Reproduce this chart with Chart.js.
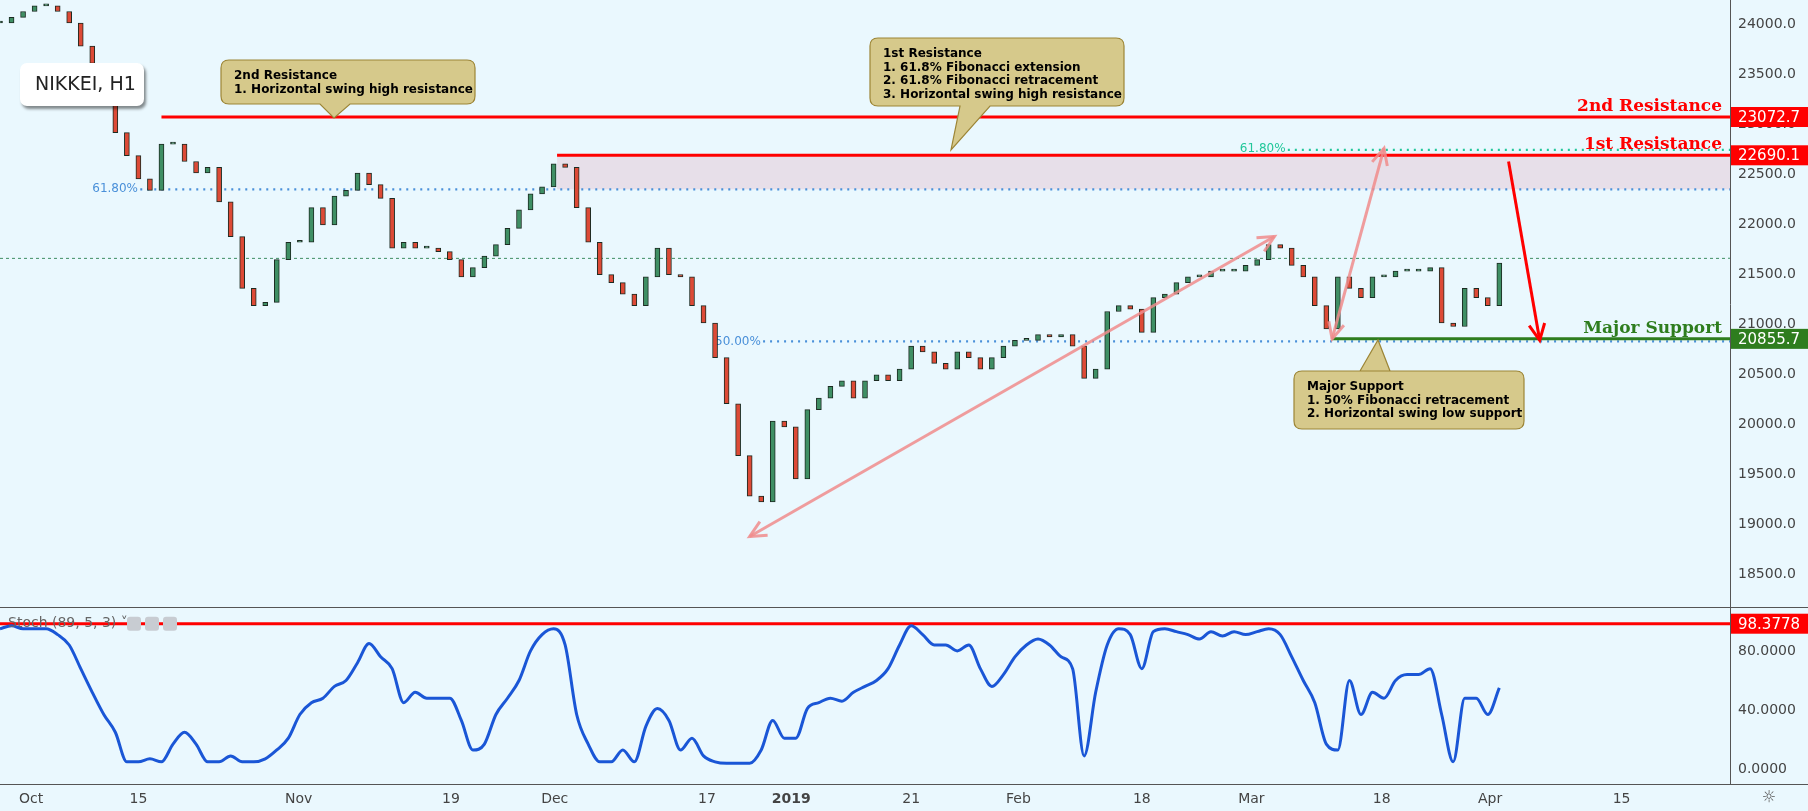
<!DOCTYPE html>
<html><head><meta charset="utf-8">
<script src="https://cdn.jsdelivr.net/npm/chart.js@4/dist/chart.umd.min.js"></script>
<style>
html,body{margin:0;padding:0;background:#eaf8fe;}
#a{position:absolute;left:0;top:0;width:1808px;height:608px;}
#b{position:absolute;left:0;top:608px;width:1808px;height:203px;}
</style></head><body>
<div id="a"><canvas id="c1"></canvas></div>
<div id="b"><canvas id="c2"></canvas></div>
<script>
// ---- data ----
const closes = [24012,24069,24127,24184,24184,24127,24012,23781,23608,23550,22916,22686,22455,22340,22801,22801,22628,22513,22570,22224,21878,21360,21187,21221,21648,21821,21821,22167,21994,22282,22340,22513,22397,22259,21763,21821,21763,21763,21728,21648,21475,21567,21682,21798,21959,22144,22305,22374,22605,22570,22167,21821,21498,21417,21302,21187,21475,21763,21498,21475,21187,21014,20668,20207,19688,19284,19227,20034,19976,19457,20149,20264,20380,20437,20264,20437,20495,20437,20553,20783,20725,20610,20553,20725,20668,20553,20668,20783,20841,20841,20898,20875,20898,20783,20460,20553,21129,21187,21152,20921,21267,21302,21417,21475,21475,21533,21533,21533,21590,21648,21798,21763,21590,21475,21187,20956,21475,21360,21267,21475,21475,21533,21533,21533,21567,21014,20979,21360,21267,21187,21613];
const stoch = [95,97,95,95,95,91,84,68,52,37,25,5,5,7,5,17,25,17,5,5,9,5,5,7,13,21,37,45,48,56,60,72,85,76,68,45,52,48,48,48,33,13,17,37,48,60,80,91,95,84,37,17,5,5,13,5,29,41,33,13,21,9,5,4,4,4,13,33,21,21,41,45,48,46,52,56,60,68,84,97,91,84,84,80,84,68,56,64,76,84,88,84,76,68,9,52,84,95,91,68,93,95,93,91,88,93,90,93,91,93,95,91,76,60,45,17,13,60,37,52,48,60,64,64,68,37,5,48,48,37,55];
const tickPos = [2.7,12,25.9,39.1,48.1,61.3,68.6,79,88.3,99,108.5,119.8,129.2,140.6];
const tickLabels = ['Oct','15','Nov','19','Dec','17','2019','21','Feb','18','Mar','18','Apr','15'];
const priceTicks = [18500,19000,19500,20000,20500,21000,21500,22000,22500,23000,23500,24000];
const stochTicks = [0,40,80];
const levels = [
 {name:'2nd Resistance', value:23072.7, from:14, color:'#ff0000'},
 {name:'1st Resistance', value:22690.1, from:48.3, color:'#ff0000'},
 {name:'Major Support', value:20855.7, from:115.5, color:'#2e7d1e'}
];
const fibs = [
 {label:'61.80%', value:22350, from:8, color:'#4a90d9'},
 {label:'50.00%', value:20830, from:62, color:'#4a90d9'},
 {label:'61.80%', value:22745, from:107.5, color:'#22c79a'}
];
const zone = [22350, 22690.1, 48.3];
const lastPrice = 21660;
const stochLevel = 98.3778;
const arrows = [
 {p:[[65,18881],[110.5,21878]], color:'rgba(240,140,140,0.85)', both:true},
 {p:[[115.5,20855],[120,22760]], color:'rgba(240,140,140,0.85)', both:true},
 {p:[[130.8,22628],[133.5,20841]], color:'#ff0000', both:false}
];

const XMIN=0, XMAX=150;
const bodies = closes.map((c,i)=>({x:i, y:[i?closes[i-1]:c, c]}));
const upC='#3f8f64', dnC='#dd4a36';

function fixW(ax){ ax.width=78; ax.paddingTop=0; ax.paddingBottom=0; }
const font='"DejaVu Sans", sans-serif';

function arrowHead(ctx,x1,y1,x2,y2,len){
  const a=Math.atan2(y2-y1,x2-x1);
  ctx.beginPath();
  ctx.moveTo(x2-len*Math.cos(a-0.45),y2-len*Math.sin(a-0.45));
  ctx.lineTo(x2,y2);
  ctx.lineTo(x2-len*Math.cos(a+0.45),y2-len*Math.sin(a+0.45));
  ctx.stroke();
}
function callout(ctx,x,y,w,h,tx,ty,bx,lines){
  ctx.save();
  ctx.fillStyle='#d6c98b'; ctx.strokeStyle='#9c8536'; ctx.lineWidth=1.2;
  const r=8;
  ctx.beginPath();
  ctx.moveTo(x+r,y); ctx.lineTo(x+w-r,y); ctx.quadraticCurveTo(x+w,y,x+w,y+r);
  if(ty>y+h){
    ctx.lineTo(x+w,y+h-r); ctx.quadraticCurveTo(x+w,y+h,x+w-r,y+h);
    ctx.lineTo(bx+30,y+h); ctx.lineTo(tx,ty); ctx.lineTo(bx,y+h);
    ctx.lineTo(x+r,y+h); ctx.quadraticCurveTo(x,y+h,x,y+h-r);
    ctx.lineTo(x,y+r); ctx.quadraticCurveTo(x,y,x+r,y);
  } else {
    ctx.lineTo(x+w,y+h-r); ctx.quadraticCurveTo(x+w,y+h,x+w-r,y+h);
    ctx.lineTo(x+r,y+h); ctx.quadraticCurveTo(x,y+h,x,y+h-r);
    ctx.lineTo(x,y+r); ctx.quadraticCurveTo(x,y,x+r,y);
    ctx.moveTo(bx,y); ctx.lineTo(tx,ty); ctx.lineTo(bx+30,y);
  }
  ctx.closePath(); ctx.fill(); ctx.stroke();
  ctx.fillStyle='#000'; ctx.font='bold 12px '+font; ctx.textBaseline='top';
  lines.forEach((l,i)=>ctx.fillText(l,x+13,y+10+i*13.5));
  ctx.restore();
}
function priceTag(ctx,area,y,txt,color){
  ctx.save();
  ctx.fillStyle=color; ctx.fillRect(area.right+1,y-10,77,20);
  ctx.fillStyle='#fff'; ctx.font='15px '+font; ctx.textBaseline='middle';
  ctx.fillText(txt,area.right+8,y+1);
  ctx.restore();
}

const topPlugin={
 id:'topdeco',
 beforeDatasetsDraw(ch){
  const {ctx,chartArea:a,scales:{x,y}}=ch;
  ctx.save();
  ctx.fillStyle='rgba(230,215,225,0.75)';
  const zy1=y.getPixelForValue(zone[1]), zy0=y.getPixelForValue(zone[0]);
  ctx.fillRect(x.getPixelForValue(zone[2]),zy1,a.right-x.getPixelForValue(zone[2]),zy0-zy1);
  ctx.strokeStyle='#3f8f64'; ctx.lineWidth=1; ctx.setLineDash([3,3]);
  const ly=y.getPixelForValue(lastPrice);
  ctx.beginPath(); ctx.moveTo(a.left,ly); ctx.lineTo(a.right,ly); ctx.stroke();
  ctx.setLineDash([2,5]); ctx.lineWidth=2.2;
  fibs.forEach(f=>{
   const fy=y.getPixelForValue(f.value), fx=x.getPixelForValue(f.from);
   ctx.strokeStyle=f.color; ctx.beginPath(); ctx.moveTo(fx+48,fy); ctx.lineTo(a.right,fy); ctx.stroke();
   ctx.fillStyle=f.color; ctx.font='12px '+font; ctx.textAlign='left'; ctx.textBaseline='middle';
   ctx.fillText(f.label,fx,fy+(f.color==='#22c79a'?-1:0));
  });
  ctx.restore();
 },
 afterDatasetsDraw(ch){
  const {ctx,chartArea:a,scales:{x,y}}=ch;
  ctx.save();
  levels.forEach(l=>{
   const ly=y.getPixelForValue(l.value);
   ctx.strokeStyle=l.color; ctx.lineWidth=3;
   ctx.beginPath(); ctx.moveTo(x.getPixelForValue(l.from),ly); ctx.lineTo(a.right,ly); ctx.stroke();
   ctx.fillStyle=l.color; ctx.font='bold 17px "DejaVu Serif", serif'; ctx.textAlign='right'; ctx.textBaseline='bottom';
   ctx.fillText(l.name,a.right-8,ly-2);
   ctx.textAlign='left';
   priceTag(ctx,a,ly,l.value.toFixed(1),l.color);
  });
  arrows.forEach(ar=>{
   const [p0,p1]=ar.p;
   const x0=x.getPixelForValue(p0[0]),y0=y.getPixelForValue(p0[1]);
   const x1=x.getPixelForValue(p1[0]),y1=y.getPixelForValue(p1[1]);
   ctx.strokeStyle=ar.color; ctx.lineWidth=3;
   ctx.beginPath(); ctx.moveTo(x0,y0); ctx.lineTo(x1,y1); ctx.stroke();
   arrowHead(ctx,x0,y0,x1,y1,18);
   if(ar.both) arrowHead(ctx,x1,y1,x0,y0,18);
  });
  callout(ctx,221,60,254,44,334,118,320,['2nd Resistance','1. Horizontal swing high resistance']);
  callout(ctx,870,38,254,68,951,150,960,['1st Resistance','1. 61.8% Fibonacci extension','2. 61.8% Fibonacci retracement','3. Horizontal swing high resistance']);
  callout(ctx,1294,371,230,58,1378,340,1360,['Major Support','1. 50% Fibonacci retracement','2. Horizontal swing low support']);
  ctx.shadowColor='rgba(0,0,0,0.45)'; ctx.shadowOffsetX=2; ctx.shadowOffsetY=3; ctx.shadowBlur=3;
  ctx.fillStyle='#fff';
  ctx.beginPath(); ctx.roundRect(20,63,124,43,7); ctx.fill();
  ctx.shadowColor='transparent';
  ctx.fillStyle='#222'; ctx.font='19px '+font; ctx.textBaseline='middle'; ctx.textAlign='left';
  ctx.fillText('NIKKEI, H1',35,85);
  ctx.strokeStyle='#555'; ctx.lineWidth=1;
  ctx.beginPath(); ctx.moveTo(0,a.bottom-0.5); ctx.lineTo(a.right+78,a.bottom-0.5); ctx.stroke();
  ctx.restore();
 }
};

new Chart(document.getElementById('c1'),{
 type:'bar',
 data:{datasets:[{
  data:bodies,
  backgroundColor:bodies.map(b=>b.y[1]>=b.y[0]?upC:dnC),
  borderColor:'#1c2b22', borderWidth:1, borderSkipped:false,
  barThickness:5, minBarLength:2
 }]},
 options:{
  responsive:true, maintainAspectRatio:false, animation:false,
  layout:{padding:0},
  plugins:{legend:{display:false},tooltip:{enabled:false}},
  scales:{
   x:{type:'linear',min:XMIN,max:XMAX,display:false,offset:false},
   y:{position:'right',min:18166,max:24242,afterFit:fixW,
      afterBuildTicks:ax=>{ax.ticks=priceTicks.map(v=>({value:v}));},
      grid:{display:false,drawTicks:true,tickLength:4,tickColor:'#555'},
      border:{color:'#555'},
      ticks:{color:'#444',font:{size:14,family:font},padding:4,callback:v=>v.toFixed(1)}}
  }
 },
 plugins:[topPlugin]
});

const botPlugin={
 id:'botdeco',
 beforeDatasetsDraw(ch){
  const {ctx,chartArea:a,scales:{y}}=ch;
  const ly=y.getPixelForValue(stochLevel);
  ctx.save();
  ctx.strokeStyle='#ff0000'; ctx.lineWidth=3;
  ctx.beginPath(); ctx.moveTo(a.left,ly); ctx.lineTo(a.right,ly); ctx.stroke();
  ctx.restore();
 },
 afterDatasetsDraw(ch){
  const {ctx,chartArea:a,scales:{y}}=ch;
  const ly=y.getPixelForValue(stochLevel);
  priceTag(ctx,a,ly,stochLevel.toFixed(4),'#ff0000');
  ctx.save();
  ctx.fillStyle='#666'; ctx.font='14px '+font; ctx.textBaseline='middle';
  ctx.fillText('Stoch (89, 5, 3) \u02C5',8,ly);
  ctx.fillStyle='#c8ccd2';
  [127,145,163].forEach(px=>{ctx.beginPath();ctx.roundRect(px,ly-7,14,14,3);ctx.fill();});
  ctx.strokeStyle='#555'; ctx.lineWidth=1;
  ctx.beginPath(); ctx.moveTo(0,a.bottom+0.5); ctx.lineTo(a.right+78,a.bottom+0.5); ctx.stroke();
  ctx.fillStyle='#555'; ctx.font='16px '+font; ctx.textAlign='center';
  ctx.fillText('\u263C',a.right+39,a.bottom+14);
  ctx.restore();
 }
};

new Chart(document.getElementById('c2'),{
 type:'line',
 data:{datasets:[{data:stoch.map((v,i)=>({x:i,y:v})),borderColor:'#1a56d6',borderWidth:3,pointRadius:0,tension:0.4,cubicInterpolationMode:'monotone'}]},
 options:{
  responsive:true, maintainAspectRatio:false, animation:false,
  layout:{padding:0},
  plugins:{legend:{display:false},tooltip:{enabled:false}},
  scales:{
   x:{type:'linear',min:XMIN,max:XMAX,afterFit:ax=>{ax.height=27;ax.paddingLeft=0;ax.paddingRight=0;},
      afterBuildTicks:ax=>{ax.ticks=tickPos.map(v=>({value:v}));},
      grid:{display:false,drawTicks:true,tickLength:4,tickColor:'#555'},
      border:{display:false},
      ticks:{autoSkip:false,maxRotation:0,padding:3,color:'#444',
        font:c=>({size:14,family:font,weight:tickLabels[c.index]==='2019'?'bold':'normal'}),
        callback:(v,i)=>tickLabels[i]}},
   y:{position:'right',min:-10,max:109,afterFit:fixW,
      afterBuildTicks:ax=>{ax.ticks=stochTicks.map(v=>({value:v}));},
      grid:{display:false,drawTicks:true,tickLength:4,tickColor:'#555'},
      border:{color:'#555'},
      ticks:{color:'#444',font:{size:14,family:font},padding:4,callback:v=>v.toFixed(4)}}
  }
 },
 plugins:[botPlugin]
});
</script></body></html>
